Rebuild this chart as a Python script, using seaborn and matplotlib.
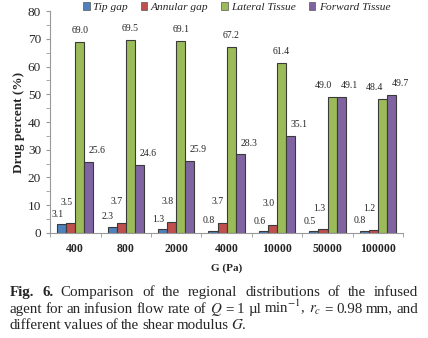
import pandas as pd
import matplotlib.pyplot as plt
import seaborn as sns
from matplotlib.patches import Patch

# Values
shear_modulus = ["400", "800", "2000", "4000", "10000", "50000", "100000"]
tip_gap = [3.1, 2.3, 1.3, 0.8, 0.6, 0.5, 0.8]
annular_gap = [3.5, 3.7, 3.8, 3.7, 3.0, 1.3, 1.2]
lateral_tissue = [69.0, 69.5, 69.1, 67.2, 61.4, 49.0, 48.4]
forward_tissue = [25.6, 24.6, 25.9, 28.3, 35.1, 49.1, 49.7]
regions = ["Tip gap", "Annular gap", "Lateral Tissue", "Forward Tissue"]
colors = ["#4F81BD", "#C0504D", "#9BBB59", "#8064A2"]

series = [tip_gap, annular_gap, lateral_tissue, forward_tissue]
rows = []
for region, vals in zip(regions, series):
    for g, v in zip(shear_modulus, vals):
        rows.append({"G": g, "region": region, "value": v})
data = pd.DataFrame(rows)

sns.set_style("ticks")
plt.rcParams["font.family"] = ["Liberation Serif", "DejaVu Serif"]
plt.rcParams["mathtext.fontset"] = "stix"

fig = plt.figure(figsize=(4.28, 3.38), dpi=100)
ax = fig.add_axes([0.117, 0.311, 0.825, 0.656])

sns.barplot(data=data, x="G", y="value", hue="region", order=shear_modulus,
            hue_order=regions, palette=colors, width=0.72, saturation=1,
            edgecolor="#3a3a3a", linewidth=0.8, legend=False, ax=ax)

# value labels, nudged like in the original so they do not collide
for k, cont in enumerate(ax.containers):
    for i, bar in enumerate(cont):
        v = series[k][i]
        dx, dy = [(-3, 4), (-3, 12), (0, 5), (6, 5)][k]
        if k == 2 and forward_tissue[i] > 45:
            dx = -6
        ax.annotate(f"{v:.1f}", (bar.get_x() + bar.get_width() / 2, v),
                    xytext=(dx, dy), textcoords="offset points",
                    ha="center", va="bottom", fontsize=7)

ax.set_ylim(0, 80)
ax.set_yticks(range(0, 81, 10))
ax.set_yticks(range(5, 80, 10), minor=True)
ax.set_xlim(-0.5, len(shear_modulus) - 0.5)
ax.set_xticks([i + 0.5 for i in range(-1, len(shear_modulus))], minor=True)
ax.tick_params(axis="x", which="major", length=0, labelsize=8.5, pad=7)
ax.tick_params(axis="x", which="minor", length=3, color="#999999")
ax.tick_params(axis="y", which="both", length=3, color="#999999", labelsize=9.5)
for lab in ax.get_xticklabels():
    lab.set_fontweight("bold")
sns.despine(ax=ax)
for s in ["left", "bottom"]:
    ax.spines[s].set_color("#999999")

ax.set_xlabel("G (Pa)", fontsize=8, fontweight="bold", labelpad=6)
ax.set_ylabel("Drug percent (%)", fontsize=9.5, fontweight="bold", labelpad=2)

handles = [Patch(facecolor=c, edgecolor="#555555", linewidth=0.5) for c in colors]
fig.legend(handles, regions, loc="center", bbox_to_anchor=(0.553, 0.979), ncol=4,
           frameon=False, prop={"style": "italic", "size": 8.2},
           handlelength=0.6, handleheight=0.6, handletextpad=0.3,
           columnspacing=1.1)

# caption, first two lines justified
caption = [
    (["Fig.", "6."] + "Comparison of the regional distributions of the infused".split(), True),
    ("agent for an infusion flow rate of $Q$ = 1 µl min$^{-1}$, $r_c$ = 0.98 mm, and".split(), True),
    ("different values of the shear modulus $G$.".split(), False),
]
baselines = [0.124, 0.075, 0.027]
x0, x1 = 10, 418
fig.canvas.draw()
renderer = fig.canvas.get_renderer()
for (words, justify), yb in zip(caption, baselines):
    texts = []
    for j, w in enumerate(words):
        bold = j < 2 and w in ("Fig.", "6.") and yb == baselines[0]
        texts.append(fig.text(0, yb, w, fontsize=10.8, va="baseline",
                              fontweight="bold" if bold else "normal"))
    widths = [t.get_window_extent(renderer).width for t in texts]
    if justify:
        gap = (x1 - x0 - sum(widths)) / (len(words) - 1)
    else:
        gap = 2.8
    x = x0
    for t, w in zip(texts, widths):
        t.set_x(x / 428)
        x += w + gap

fig.savefig("out.png", dpi=100)
